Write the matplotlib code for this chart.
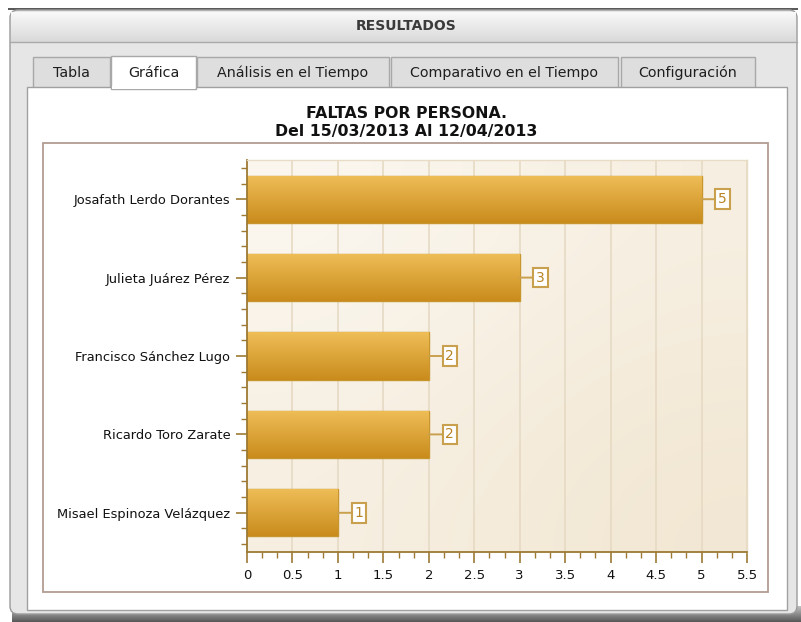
import numpy as np
import matplotlib.pyplot as plt
from matplotlib.patches import Rectangle, FancyBboxPatch
from matplotlib.ticker import MultipleLocator
from matplotlib.colors import LinearSegmentedColormap

# data
personas = ['Josafath Lerdo Dorantes', 'Julieta Juárez Pérez', 'Francisco Sánchez Lugo',
            'Ricardo Toro Zarate', 'Misael Espinoza Velázquez']
faltas = [5, 3, 2, 2, 1]
x_ticks = [0, 0.5, 1, 1.5, 2, 2.5, 3, 3.5, 4, 4.5, 5, 5.5]
x_labels = ['0', '0.5', '1', '1.5', '2', '2.5', '3', '3.5', '4', '4.5', '5', '5.5']
tabs = ['Tabla', 'Gráfica', 'Análisis en el Tiempo', 'Comparativo en el Tiempo', 'Configuración']
titulo = 'FALTAS POR PERSONA.\nDel 15/03/2013 Al 12/04/2013'

W, H = 801, 622
fig = plt.figure(figsize=(W / 100, H / 100), dpi=100)
fig.patch.set_facecolor('white')

# window chrome, drawn in pixel coords
bg = fig.add_axes([0, 0, 1, 1])
bg.set_xlim(0, W)
bg.set_ylim(H, 0)
bg.axis('off')

# bottom shadow
bg.imshow(np.linspace(0.75, 0.35, 20).reshape(-1, 1), cmap='gray', vmin=0, vmax=1,
          extent=[12, W, H, 606], aspect='auto', zorder=0)
bg.add_patch(Rectangle((8, 8), 790, 2, fc='#5a5a5a', ec='none', zorder=1))
# outer panel
bg.add_patch(FancyBboxPatch((10, 10), 787, 604, boxstyle='round,pad=0,rounding_size=8',
                            fc='#e6e6e6', ec='#9a9a9a', lw=1, zorder=1))
# title bar gradient
bg.imshow(np.linspace(0.97, 0.85, 30).reshape(-1, 1), cmap='gray', vmin=0, vmax=1,
          extent=[11, 796, 42, 12], aspect='auto', zorder=2)
bg.plot([10, 797], [42, 42], color='#aaaaaa', lw=1, zorder=3)
bg.text(406, 26, 'RESULTADOS', ha='center', va='center', fontsize=10,
        fontweight='bold', color='#3a3a3a', zorder=4)

# tabs
tab_x = [33, 111, 197, 391, 621]
tab_w = [77, 85, 192, 227, 134]
for i, (t, x0, w) in enumerate(zip(tabs, tab_x, tab_w)):
    sel = i == 1
    bg.add_patch(Rectangle((x0, 57 if not sel else 56), w, 31 if not sel else 33,
                           fc='white' if sel else '#dedede', ec='#a8a8a8', lw=1,
                           zorder=5 if sel else 3))
    bg.text(x0 + w / 2, 73, t, ha='center', va='center', fontsize=10.3,
            color='#1e1e1e', zorder=6)

# content panel
bg.add_patch(Rectangle((27, 87), 760, 523, fc='white', ec='#a0a0a0', lw=1, zorder=4))
bg.add_patch(Rectangle((112, 86), 83, 3, fc='white', ec='none', zorder=6))
# chart frame
bg.add_patch(Rectangle((43, 143), 725, 449, fc='white', ec='#b29c92', lw=1.3, zorder=5))

fig.text(406 / W, 1 - 122.5 / H, titulo, ha='center', va='center', fontsize=11.3,
         fontweight='bold', color='#111111', linespacing=1.25)

# chart
ax = fig.add_axes([247 / W, 1 - 552 / H, 500 / W, 392 / H])
ax.set_zorder(10)
ax.set_xlim(0, 5.5)
ax.set_ylim(4.5, -0.5)

bg_grad = np.array([[0.0, 0.5], [0.5, 1.0]])
cream = LinearSegmentedColormap.from_list('cream', ['#fbf7f0', '#f2e7d3'])
ax.imshow(bg_grad, cmap=cream, extent=[0, 1, 0, 1], transform=ax.transAxes,
          aspect='auto', interpolation='bicubic', zorder=0)

for xv in x_ticks[1:]:
    ax.axvline(xv, color='#e6dac4', lw=1.2, zorder=1)

ypos = np.arange(len(personas))
bars = ax.barh(ypos, faltas, height=0.6, color='#dda33a', edgecolor='#c8962e', lw=1, zorder=2)
gold = LinearSegmentedColormap.from_list('gold', ['#efbd57', '#c98c1c'])
for b in bars:
    x0, y0 = b.get_x(), b.get_y()
    im = ax.imshow(np.linspace(0, 1, 50).reshape(-1, 1), cmap=gold,
                   extent=[x0, x0 + b.get_width(), y0 + b.get_height(), y0],
                   aspect='auto', zorder=2.5)
    im.set_clip_path(b)

for y, v in zip(ypos, faltas):
    ax.annotate(str(v), xy=(v, y), xytext=(v + 0.23, y), ha='center', va='center',
                fontsize=10, color='#b88424', zorder=4,
                bbox=dict(boxstyle='square,pad=0.2', fc='white', ec='#c9a04e', lw=1.5),
                arrowprops=dict(arrowstyle='-', color='#c9a04e', lw=1.4, shrinkA=0, shrinkB=0))

ax.set_yticks(ypos)
ax.set_yticklabels(personas, fontsize=9.4, color='#111111')
ax.yaxis.set_minor_locator(MultipleLocator(0.2))
ax.set_xticks(x_ticks)
ax.set_xticklabels(x_labels, fontsize=9.5, color='#111111')
ax.xaxis.set_minor_locator(MultipleLocator(1 / 6))
ax.tick_params(which='major', length=8, width=1.2, color='#9c7a34', pad=4)
ax.tick_params(which='minor', length=4, width=1, color='#9c7a34')
ax.tick_params(axis='y', which='major', pad=4)
for s in ['left', 'bottom']:
    ax.spines[s].set_color('#9c7a34')
    ax.spines[s].set_linewidth(1.3)
for s in ['top', 'right']:
    ax.spines[s].set_color('#e8dcc6')
    ax.spines[s].set_linewidth(1)

plt.savefig('out.png', dpi=100)
